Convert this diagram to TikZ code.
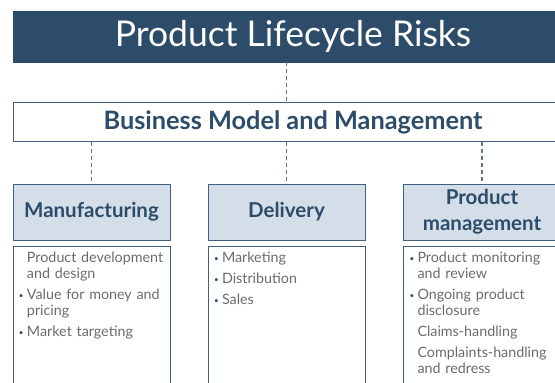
\documentclass[tikz,border=0pt]{standalone}
\usepackage{fontspec}
\setmainfont{Lato}
\usepackage{xcolor}
\usepackage{array}
\usepackage{tikz}
\usetikzlibrary{positioning,calc}
\definecolor{navy}{HTML}{2C4C6A}
\definecolor{paleblue}{HTML}{D3DEE8}
\definecolor{edgeblue}{HTML}{41607F}
\definecolor{dashblue}{HTML}{5F7892}
\definecolor{bodygray}{HTML}{6B6B6B}
\newcommand{\bul}{\raisebox{1.5pt}{\textcolor{navy}{\fontsize{8}{8}\selectfont\textbullet}}}

\begin{document}
\begin{tikzpicture}[x = 1pt, y = -1pt,
  hdr/.style = {draw = edgeblue, line width = 1pt, fill = paleblue, minimum width = 157pt, minimum height = 56pt, align = center, text = navy, font = \fontsize{20.5}{26}\selectfont\bfseries},
  riskbox/.style = {draw = edgeblue, line width = 1pt, minimum width = 157pt, inner xsep = 6pt, inner ysep = 3pt, text height = 13pt, text depth = 160pt, text width = 145pt, align = left, anchor = north, text = bodygray, font = \fontsize{14.3}{16}\selectfont},
  link/.style = {draw = dashblue, line width = 1.2pt, dash pattern = on 4pt off 3pt}]
  \useasboundingbox (0,0) rectangle (555,383);
  \clip (0,0) rectangle (555,383);
  \node[fill = navy, draw = navy, minimum width = 560pt, minimum height = 51pt, text = white, font = \fontsize{35.5}{38}\selectfont] (title) at (293,36.5) {Product Lifecycle Risks};
  \node[draw = edgeblue, line width = 1pt, fill = white, minimum width = 560pt, minimum height = 39pt, text = navy, font = \fontsize{25.3}{28}\selectfont\bfseries] (biz) at (293,122) {Business Model and Management};
  \node[hdr] (mfg) at (91.5,212) {Manufacturing};
  \node[hdr] (deliv) at (286.5,212) {Delivery};
  \node[hdr] (prodmgmt) at (482,212) {Product\\management};
  \draw[link] (title.south -| deliv) -- (biz.north -| deliv);
  \draw[link] (biz.south -| mfg) -- (mfg);
  \draw[link] (biz.south -| deliv) -- (deliv);
  \draw[link] (biz.south -| prodmgmt) -- (prodmgmt);
  % risk lists under each heading
  \node[riskbox] (mfgrisks) at (91.5,246) {\begin{tabular}[t]{@{}p{8pt}@{}l@{}}
    & Product development\\ & and design\\[5pt]
    \bul & Value for money and\\ & pricing\\[5pt]
    \bul & Market targeting
  \end{tabular}};
  \node[riskbox] (delivrisks) at (286.5,246) {\begin{tabular}[t]{@{}p{8pt}@{}l@{}}
    \bul & Marketing\\[5pt]
    \bul & Distribution\\[5pt]
    \bul & Sales
  \end{tabular}};
  \node[riskbox] (prodrisks) at (482,246) {\begin{tabular}[t]{@{}p{8pt}@{}l@{}}
    \bul & Product monitoring\\ & and review\\[5pt]
    \bul & Ongoing product\\ & disclosure\\[5pt]
    & Claims-handling\\[5pt]
    & Complaints-handling\\ & and redress
  \end{tabular}};
\end{tikzpicture}
\end{document}
